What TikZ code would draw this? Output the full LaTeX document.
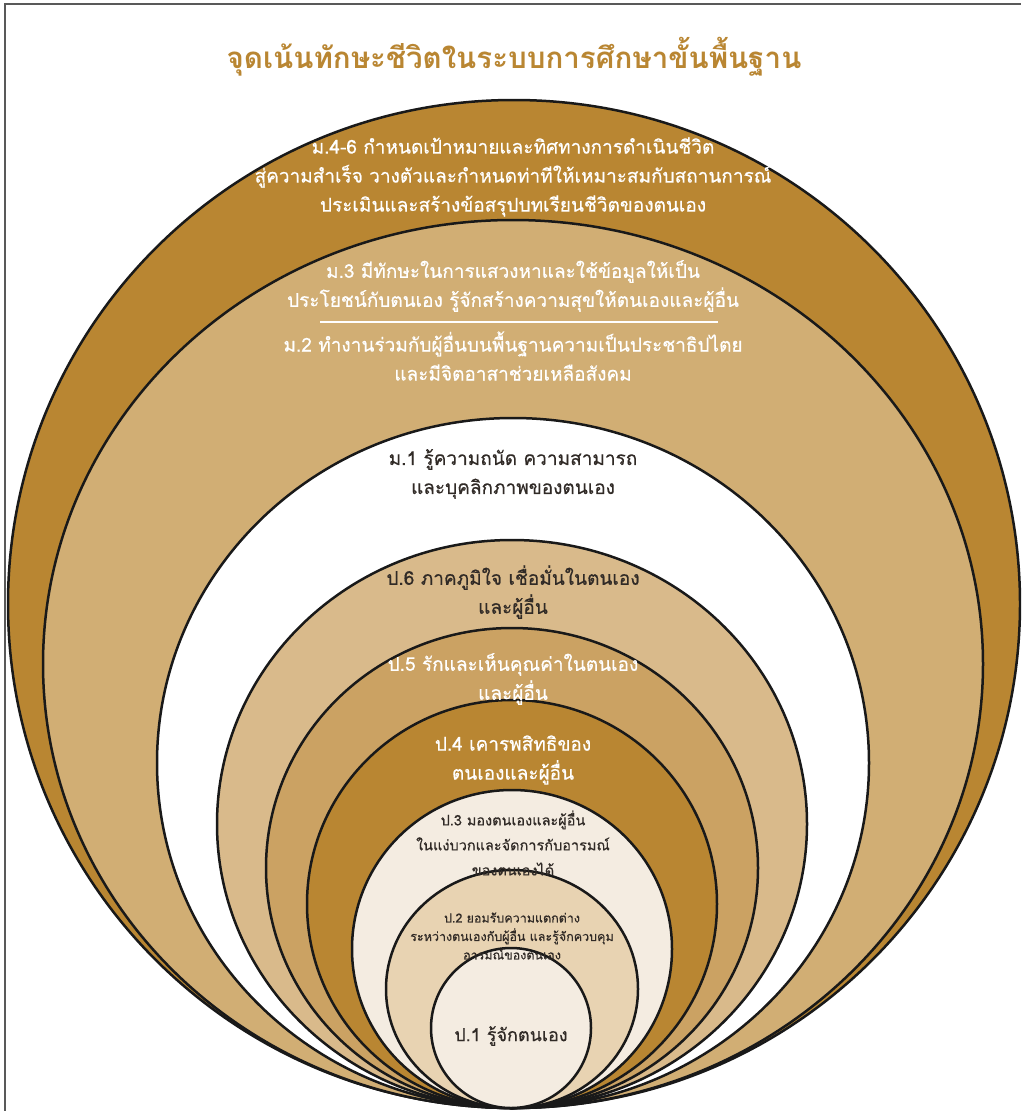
\documentclass[tikz,border=0pt]{standalone}
\usepackage{fontspec}
\newfontfamily\thai[Script=Thai]{Loma}
\newfontfamily\thaim[Script=Thai,FakeBold=0.5]{Loma}
\definecolor{gold}{HTML}{B98632}
\definecolor{tanA}{HTML}{D1AE74}
\definecolor{tanB}{HTML}{D9BA8B}
\definecolor{tanC}{HTML}{CBA263}
\definecolor{creamA}{HTML}{F4ECE1}
\definecolor{beige}{HTML}{E8D3B2}
\definecolor{darktxt}{HTML}{302A26}
\tikzset{
  ring/.style={draw=black!90, line width=2.5pt},
  lbl/.style={align=center, font=\thaim\fontsize{19}{29}\selectfont, inner sep=0pt},
  wt/.style={lbl, text=white},
  dk/.style={lbl, text=darktxt},
}
\begin{document}
\begin{tikzpicture}[x=1pt,y=-1pt]
\useasboundingbox (0,0) rectangle (1021,1111);
\fill[white] (0,0) rectangle (1021,1111);
\begin{scope}
\clip (0,0) rectangle (1021,1111);
\draw[ring, fill=gold]   (514,604) ellipse [x radius=506, y radius=504];
\draw[ring, fill=tanA]   (513,664) ellipse [x radius=470, y radius=444];
\draw[ring, fill=white]  (513,763) ellipse [x radius=356, y radius=345];
\draw[ring, fill=tanB]   (512,824) ellipse [x radius=295, y radius=284];
\draw[ring, fill=tanC]   (512,868) ellipse [x radius=246, y radius=240];
\draw[ring, fill=gold]   (512,904) ellipse [x radius=205, y radius=204];
\draw[ring, fill=creamA] (512,949) ellipse [x radius=160, y radius=159];
\draw[ring, fill=beige]  (512,989) ellipse [x radius=126, y radius=119];
\draw[ring, fill=creamA] (511,1028) ellipse [x radius=80, y radius=80];
\end{scope}
\draw[black!65, line width=1.3pt] (5,1111) -- (5,4) -- (1021,4);
\node[font=\thai\bfseries\fontsize{29.5}{36}\selectfont, text=gold] (title) at (514,57) {จุดเน้นทักษะชีวิตในระบบการศึกษาขั้นพื้นฐาน};
\node[wt] (m46) at (513,177) {ม.4-6 กำหนดเป้าหมายและทิศทางการดำเนินชีวิต\\สู่ความสำเร็จ วางตัวและกำหนดท่าทีให้เหมาะสมกับสถานการณ์\\ประเมินและสร้างข้อสรุปบทเรียนชีวิตของตนเอง};
\node[wt] (m3) at (513,286) {ม.3 มีทักษะในการแสวงหาและใช้ข้อมูลให้เป็น\\ประโยชน์กับตนเอง รู้จักสร้างความสุขให้ตนเองและผู้อื่น};
\coordinate (sepL) at (320,322);
\coordinate (sepR) at (718,322);
\draw[white, line width=1.2pt] (sepL) -- (sepR);
\node[wt] (m2) at (513,356) {ม.2 ทำงานร่วมกับผู้อื่นบนพื้นฐานความเป็นประชาธิปไตย\\และมีจิตอาสาช่วยเหลือสังคม};
\node[dk] (m1) at (513,474) {ม.1 รู้ความถนัด ความสามารถ\\และบุคลิกภาพของตนเอง};
\node[dk] (p6) at (513,592) {ป.6 ภาคภูมิใจ เชื่อมั่นในตนเอง\\และผู้อื่น};
\node[wt] (p5) at (513,679) {ป.5 รักและเห็นคุณค่าในตนเอง\\และผู้อื่น};
\node[wt] (p4) at (513,760) {ป.4 เคารพสิทธิของ\\ตนเองและผู้อื่น};
\node[dk, font=\thaim\fontsize{14.5}{25}\selectfont] (p3) at (513,843) {ป.3 มองตนเองและผู้อื่น\\ในแง่บวกและจัดการกับอารมณ์\\ของตนเองได้};
\node[dk, font=\thaim\fontsize{12.5}{18.5}\selectfont] (p2) at (512,936) {ป.2 ยอมรับความแตกต่าง\\ระหว่างตนเองกับผู้อื่น และรู้จักควบคุม\\อารมณ์ของตนเอง};
\node[dk, font=\thaim\fontsize{18}{24}\selectfont] (p1) at (511,1036) {ป.1 รู้จักตนเอง};
\end{tikzpicture}
\end{document}
